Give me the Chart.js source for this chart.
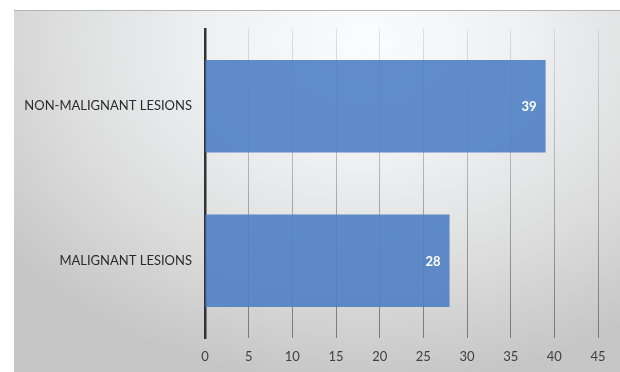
<!DOCTYPE html>
<html>
<head>
<meta charset="utf-8">
<script src="https://cdn.jsdelivr.net/npm/chart.js@4/dist/chart.umd.min.js"></script>
<style>
  html, body { margin: 0; padding: 0; background: #fff; }
  #wrap { position: relative; width: 620px; height: 372px; }
  #bg {
    position: absolute; left: 14px; top: 10px; width: 606px; height: 361px;
    border-top: 1px solid #b4b4b4;
    background: radial-gradient(ellipse 75% 95% at 58% 8%, #fbfcfd 0%, #eef0f1 35%, #dcdcdc 70%, #c6c6c6 100%);
  }
  canvas { position: absolute; left: 0; top: 0; }
</style>
</head>
<body>
<div id="wrap">
  <div id="bg"></div>
  <canvas id="chart" width="620" height="372"></canvas>
</div>
<script>
// データ
const categories = ['NON-MALIGNANT LESIONS', 'MALIGNANT LESIONS'];
const counts = [39, 28];
const xTicks = [0, 5, 10, 15, 20, 25, 30, 35, 40, 45];

// バー内側の白い数値ラベル
const valueLabels = {
  id: 'valueLabels',
  afterDatasetsDraw(chart) {
    const ctx = chart.ctx;
    const meta = chart.getDatasetMeta(0);
    ctx.save();
    ctx.fillStyle = '#ffffff';
    ctx.font = 'bold 13px Lato, sans-serif';
    ctx.textAlign = 'right';
    ctx.textBaseline = 'middle';
    meta.data.forEach(function (bar, i) {
      ctx.fillText(String(counts[i]), bar.x - 9, bar.y + 1);
    });
    ctx.restore();
  }
};

function gridColor(c) {
  const area = c.chart.chartArea;
  if (!area) return '#aaa';
  const g = c.chart.ctx.createLinearGradient(0, area.top, 0, area.bottom);
  g.addColorStop(0, 'rgba(150,150,150,0.25)');
  g.addColorStop(1, 'rgba(110,110,110,0.9)');
  return g;
}

new Chart(document.getElementById('chart'), {
  type: 'bar',
  data: {
    labels: categories,
    datasets: [{
      data: counts,
      backgroundColor: 'rgba(79,129,196,0.9)',
      borderWidth: 0,
      barPercentage: 0.6,
      categoryPercentage: 1.0
    }]
  },
  options: {
    indexAxis: 'y',
    responsive: false,
    animation: false,
    layout: { padding: { top: 29, right: 22, bottom: 0, left: 0 } },
    plugins: { legend: { display: false }, tooltip: { enabled: false } },
    scales: {
      x: {
        min: 0, max: 45,
        afterBuildTicks: function (s) { s.ticks = xTicks.map(v => ({ value: v })); },
        afterFit: function (s) { s.height = 34; },
        grid: { color: gridColor, lineWidth: 1, drawTicks: false },
        border: { display: false },
        ticks: { color: '#404040', font: { family: 'Lato', size: 13 }, padding: 11 }
      },
      y: {
        afterFit: function (s) { s.width = 205; },
        grid: { display: false, drawTicks: false },
        border: { display: true, color: '#333333', width: 2.5 },
        ticks: { color: '#2b2b2b', font: { family: 'Lato', size: 13 }, padding: 13 }
      }
    }
  },
  plugins: [valueLabels]
});
</script>
</body>
</html>
